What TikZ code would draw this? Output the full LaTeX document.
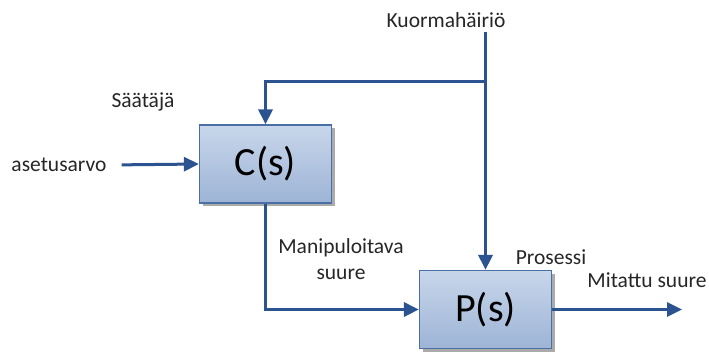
\documentclass[tikz,border=0pt]{standalone}
\usepackage{fontspec}
\setmainfont{Carlito}
\usepackage{xcolor}
\usetikzlibrary{arrows.meta,shadows}

\definecolor{viivasin}{HTML}{2B5390}
\definecolor{lohkoreuna}{HTML}{4A6FA5}
\definecolor{lohkoyla}{HTML}{C8D6EA}
\definecolor{lohkoala}{HTML}{9DB4D6}

\tikzset{
  lohko/.style={draw=lohkoreuna,line width=1.2pt,top color=lohkoyla,bottom color=lohkoala,
    minimum width=132pt,minimum height=78pt,inner sep=0pt,font=\fontsize{40}{42}\selectfont,
    drop shadow={shadow xshift=3pt,shadow yshift=-3pt,fill=black!55,opacity=0.6}},
  teksti/.style={font=\fontsize{21.5}{26}\selectfont,text=black!85,inner sep=2pt},
  viiva/.style={draw=viivasin,line width=3pt},
  nuoli/.style={viiva,-{Triangle[length=15pt,width=14pt]}}
}

\begin{document}
\begin{tikzpicture}[x=1pt,y=-1pt]
    \useasboundingbox (0,0) rectangle (709,354);
    \node[lohko] (C) at (265.5,164) {C(s)};
    \node[lohko] (P) at (485.5,309.5) {P(s)};
    \node[teksti] (kuorma) at (446,20) {Kuormahäiriö};
    \node[teksti] (saataja) at (143,102) {Säätäjä};
    \node[teksti] (asetus) at (59,165) {asetusarvo};
    \node[teksti,align=center] (manip) at (341,259) {Manipuloitava\\suure};
    \node[teksti] (prosessi) at (551,257) {Prosessi};
    \node[teksti] (mitattu) at (647,280) {Mitattu suure};
    \coordinate (ylhaalla) at (485.5,32);
    \coordinate (haara) at (485.5,81);
    \coordinate (ulos) at (682,309.5);
    \draw[nuoli] (ylhaalla) to (P.north);
    \draw[nuoli] (haara) -| (C.north);
    \draw[nuoli,shorten <=13pt] (asetus.east) to (C.west);
    \draw[nuoli] (C.south) |- (P.west);
    \draw[nuoli] (P.east) to (ulos);
\end{tikzpicture}
\end{document}
